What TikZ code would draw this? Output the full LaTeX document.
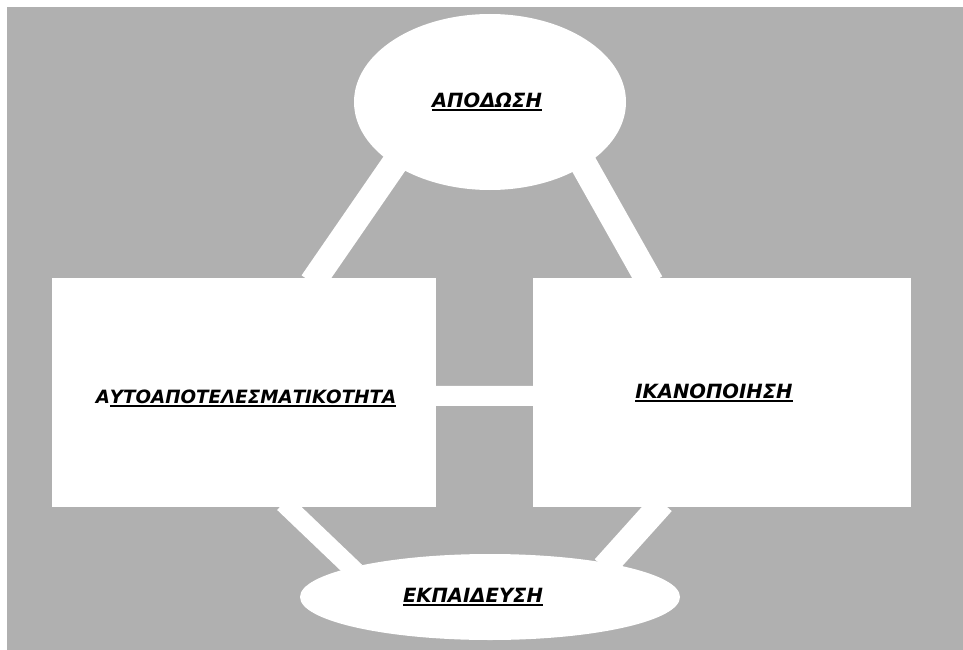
\documentclass[tikz,border=0pt]{standalone}
\usepackage{fontspec}
\setmainfont{DejaVu Sans}
\usetikzlibrary{shapes, backgrounds, positioning}
\newcommand{\tbi}[1]{\textbf{\textit{#1}}}
\newcommand{\ulbar}[1]{\setbox0\hbox{#1}\leavevmode\rlap{\rule[-3.5pt]{\wd0}{1.7pt}}\box0}
\definecolor{gray69}{gray}{0.69}

\begin{document}
\begin{tikzpicture}[x=1pt, y=-1pt,
  basic/.style = {fill=white, inner sep=0pt, font=\fontsize{19.6}{23}\selectfont},
  oval/.style  = {basic, ellipse},
  box/.style   = {basic, rectangle, minimum height=229pt},
  link/.style  = {draw=white, line width=#1, shorten >=-6pt, shorten <=-6pt},
  link/.default = 24pt]

% page and grey backdrop
\useasboundingbox (0,0) rectangle (963,650);
\begin{scope}[on background layer]
\fill[gray69] (7,7) rectangle (963,650);
\end{scope}

% the four terms
\node[oval, minimum width=272pt, minimum height=176pt] (apod) at (490,102) {\tbi{\ulbar{ΑΠΟΔΩΣΗ}}\hspace*{6pt}};
\node[box, minimum width=384pt, font=\fontsize{18.3}{22}\selectfont, text height=25pt] (auto) at (244,392.5) {\hspace*{4pt}\tbi{Α\ulbar{ΥΤΟΑΠΟΤΕΛΕΣΜΑΤΙΚΟΤΗΤΑ}}};
\node[box, minimum width=378pt] (ikan) at (722,392.5) {\tbi{\ulbar{ΙΚΑΝΟΠΟΙΗΣΗ}}\hspace*{16pt}};
\node[oval, minimum width=380pt, minimum height=86pt] (ekp) at (490,597) {\tbi{\ulbar{ΕΚΠΑΙΔΕΥΣΗ}}\hspace*{34pt}};

% white bars between them, kept behind the shapes
\begin{scope}[on background layer]
\draw[link=26pt] (auto.58.6) -- (apod.213);
\draw[link=27pt] (ikan.123.6) -- (apod.326.4);
\draw[link=20pt] (auto.-1.3) -- (ikan.181.4);
\draw[link=19pt] (auto.291.9) -- (ekp.168);
\draw[link=25pt] (ikan.241.6) -- (ekp.16.7);
\end{scope}

\end{tikzpicture}
\end{document}
